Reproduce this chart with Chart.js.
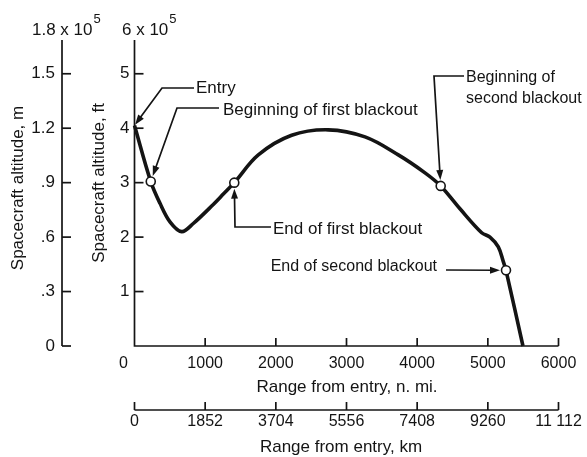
<!DOCTYPE html>
<html>
<head>
<meta charset="utf-8">
<script src="https://cdn.jsdelivr.net/npm/chart.js@4.4.0/dist/chart.umd.min.js"></script>
<style>
  html, body { margin: 0; padding: 0; background: #fff; }
  #wrap { width: 587px; height: 457px; }
</style>
</head>
<body>
<div id="wrap"><canvas id="chart"></canvas></div>
<script>
// trajectory: range from entry in n. mi., altitude in units of 10^5 ft
const rangeNmi = [0, 230, 361, 502, 668, 832, 1115, 1257, 1412, 1752, 2224, 2742, 3262, 3733, 4111, 4333, 4606, 4913, 5030, 5148, 5219, 5257, 5497];
const altitudeFt = [4.05, 3.02, 2.62, 2.28, 2.10, 2.25, 2.60, 2.79, 3.00, 3.51, 3.87, 3.97, 3.84, 3.51, 3.18, 2.94, 2.52, 2.08, 2.00, 1.82, 1.55, 1.39, 0];

// blackout begin / end points (open circles)
const eventRange = [230, 1412, 4333, 5257];
const eventAlt = [3.02, 3.00, 2.94, 1.39];

// axes
const ftTicks = [1, 2, 3, 4, 5];
const mTicks = [0, 0.3, 0.6, 0.9, 1.2, 1.5];
const mLabels = ["0", ".3", ".6", ".9", "1.2", "1.5"];
const nmiTicks = [0, 1000, 2000, 3000, 4000, 5000, 6000];
const kmTicks = [0, 1852, 3704, 5556, 7408, 9260, 11112];
const kmLabels = ["0", "1852", "3704", "5556", "7408", "9260", "11 112"];

const INK = "#141414";
const SANS = "Liberation Sans, Arial, sans-serif";
const NARROW = "'Liberation Sans Narrow', 'Liberation Sans', sans-serif";

// callouts: text position and leader elbow are layout, the arrow tip goes to the data point
const notes = [
  { lines: ["Entry"], tx: 196, ty: 88, size: 17, align: "left", lead: [[194, 88], [162, 88]], at: [rangeNmi[0], altitudeFt[0]], gap: 1 },
  { lines: ["Beginning of first blackout"], tx: 223, ty: 110, size: 17, align: "left", lead: [[219, 108], [177, 108]], at: [eventRange[0], eventAlt[0]], gap: 6 },
  { lines: ["End of first blackout"], tx: 273, ty: 229, size: 17, align: "left", lead: [[271, 227], [235, 227]], at: [eventRange[1], eventAlt[1]], gap: 6 },
  { lines: ["Beginning of", "second blackout"], tx: 466, ty: 78, size: 16, align: "left", lead: [[464, 76], [434, 76]], at: [eventRange[2], eventAlt[2]], gap: 6 },
  { lines: ["End of second blackout"], tx: 437, ty: 267, size: 16, align: "right", lead: [[446, 270]], at: [eventRange[3], eventAlt[3]], gap: 6 },
];

function polyline(ctx, pts) {
  ctx.beginPath();
  ctx.moveTo(pts[0][0], pts[0][1]);
  for (let i = 1; i < pts.length; i++) ctx.lineTo(pts[i][0], pts[i][1]);
  ctx.stroke();
}

const axesPlugin = {
  id: "axes",
  beforeDatasetsDraw(chart) {
    const { ctx, scales: { x, y } } = chart;
    const top = chart.chartArea.top;
    const x0 = x.getPixelForValue(0);
    const y0 = y.getPixelForValue(0);
    const xEnd = x.getPixelForValue(6000);
    const xM = 62;          // metre axis
    const yKm = y0 + 64;    // km axis

    ctx.save();
    ctx.strokeStyle = INK;
    ctx.fillStyle = INK;
    ctx.lineWidth = 1.7;

    // ft axis + n. mi. axis
    polyline(ctx, [[x0, top], [x0, y0], [xEnd, y0]]);
    ftTicks.forEach((v) => {
      const py = y.getPixelForValue(v);
      polyline(ctx, [[x0, py], [x0 + 9, py]]);
    });
    nmiTicks.slice(1).forEach((v) => {
      const px = x.getPixelForValue(v);
      polyline(ctx, [[px, y0], [px, y0 - 8]]);
    });

    // metre axis, same scale (0.3 m per ft unit as printed)
    polyline(ctx, [[xM, top], [xM, y0]]);
    mTicks.forEach((v) => {
      const py = y.getPixelForValue(v / 0.3);
      polyline(ctx, [[xM, py], [xM + 9, py]]);
    });

    // km axis
    polyline(ctx, [[x0, yKm], [xEnd, yKm]]);
    kmTicks.forEach((v) => {
      const px = x.getPixelForValue(v / 1.852);
      polyline(ctx, [[px, yKm], [px, yKm - 8]]);
    });

    // tick labels
    ctx.textBaseline = "middle";
    ctx.font = "17px " + SANS;
    ctx.textAlign = "right";
    ftTicks.forEach((v) => ctx.fillText(String(v), x0 - 5, y.getPixelForValue(v)));
    mTicks.forEach((v, i) => ctx.fillText(mLabels[i], xM - 7, y.getPixelForValue(v / 0.3)));

    ctx.font = "16px " + NARROW;
    ctx.textAlign = "center";
    nmiTicks.forEach((v, i) => {
      const px = x.getPixelForValue(v) + (i === 0 ? -11 : 0);
      ctx.fillText(String(v), px, y0 + 18);
    });
    kmTicks.forEach((v, i) => ctx.fillText(kmLabels[i], x.getPixelForValue(v / 1.852), yKm + 12));

    // axis titles
    ctx.font = "17px " + SANS;
    ctx.fillText("Range from entry, n. mi.", 347, y0 + 41);
    ctx.fillText("Range from entry, km", 341, yKm + 37);
    [["Spacecraft altitude, m", 18, 188], ["Spacecraft altitude, ft", 99, 183]].forEach(([t, cx, cy]) => {
      ctx.save();
      ctx.translate(cx, cy);
      ctx.rotate(-Math.PI / 2);
      ctx.fillText(t, 0, 0);
      ctx.restore();
    });

    // scale factors at the top of each axis
    ctx.textAlign = "left";
    [["1.8 x 10", 32], ["6 x 10", 122]].forEach(([t, lx]) => {
      ctx.font = "17px " + NARROW;
      ctx.fillText(t, lx, 30);
      const w = ctx.measureText(t).width;
      ctx.font = "13px " + NARROW;
      ctx.fillText("5", lx + w + 1, 19);
    });
    ctx.restore();
  },
  afterDatasetsDraw(chart) {
    const { ctx, scales: { x, y } } = chart;
    ctx.save();
    ctx.strokeStyle = INK;
    ctx.fillStyle = INK;
    ctx.lineWidth = 1.7;
    notes.forEach((n) => {
      const cx = x.getPixelForValue(n.at[0]);
      const cy = y.getPixelForValue(n.at[1]);
      const last = n.lead[n.lead.length - 1];
      const dx = last[0] - cx, dy = last[1] - cy;
      const len = Math.hypot(dx, dy);
      const ux = dx / len, uy = dy / len;
      const tip = [cx + ux * n.gap, cy + uy * n.gap];
      polyline(ctx, n.lead.concat([[tip[0] + ux * 6, tip[1] + uy * 6]]));
      // arrow head
      const hl = 10, hw = 3.5;
      ctx.beginPath();
      ctx.moveTo(tip[0], tip[1]);
      ctx.lineTo(tip[0] + ux * hl - uy * hw, tip[1] + uy * hl + ux * hw);
      ctx.lineTo(tip[0] + ux * hl + uy * hw, tip[1] + uy * hl - ux * hw);
      ctx.closePath();
      ctx.fill();

      ctx.font = n.size + "px " + SANS;
      ctx.textAlign = n.align;
      ctx.textBaseline = "middle";
      n.lines.forEach((t, i) => ctx.fillText(t, n.tx, n.ty + i * 21));
    });
    ctx.restore();
  },
};

new Chart(document.getElementById("chart"), {
  type: "line",
  data: {
    datasets: [
      {
        label: "Blackout boundaries",
        data: eventRange.map((r, i) => ({ x: r, y: eventAlt[i] })),
        showLine: false,
        pointRadius: 4.5,
        pointBorderWidth: 1.6,
        pointBackgroundColor: "#fff",
        pointBorderColor: INK,
        clip: false,
      },
      {
        label: "Trajectory",
        data: rangeNmi.map((r, i) => ({ x: r, y: altitudeFt[i] })),
        borderColor: INK,
        borderWidth: 3.6,
        pointRadius: 0,
        tension: 0.35,
        clip: false,
      },
    ],
  },
  options: {
    responsive: true,
    maintainAspectRatio: false,
    animation: false,
    layout: { padding: { left: 134.5, right: 28.5, top: 40, bottom: 111 } },
    plugins: { legend: { display: false }, tooltip: { enabled: false } },
    scales: {
      x: { type: "linear", min: 0, max: 6000, display: false },
      y: { type: "linear", min: 0, max: 5.62, display: false },
    },
  },
  plugins: [axesPlugin],
});
</script>
</body>
</html>
